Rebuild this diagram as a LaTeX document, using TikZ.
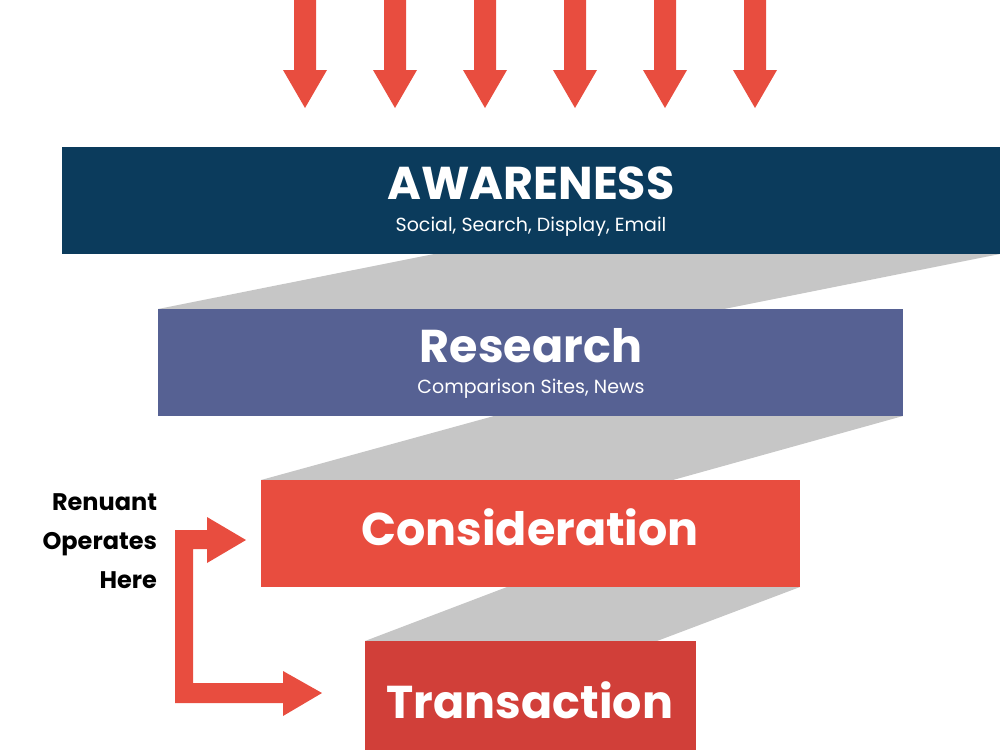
\documentclass[tikz,border=0pt]{standalone}
\usepackage{fontspec}
\setmainfont{Poppins}
\begin{document}
\begin{tikzpicture}[x=1pt,y=-1pt,
  box/.style={inner sep=0pt,outer sep=0pt},
  title/.style={font=\fontsize{46}{46}\selectfont\bfseries,text=white},
  sub/.style={font=\fontsize{19}{19}\selectfont,text=white},
  rib/.style={fill=ribgrey}]
\definecolor{navy}{HTML}{0B3B5C}
\definecolor{slate}{HTML}{566193}
\definecolor{red1}{HTML}{E84D3F}
\definecolor{red2}{HTML}{D13F39}
\definecolor{ribgrey}{HTML}{C6C6C6}
\useasboundingbox (0,0) rectangle (1000,750);
% ribbons
\fill[rib] (434,254) -- (1000,254) -- (724,309) -- (158,309) -- cycle;
\fill[rib] (494,416) -- (903,416) -- (673,480) -- (261,480) -- cycle;
\fill[rib] (507,587) -- (800,587) -- (657,641) -- (365,641) -- cycle;
% boxes
\fill[navy] (62,147) rectangle (1000,254);
\fill[slate] (158,309) rectangle (903,416);
\fill[red1] (261,480) rectangle (800,587);
\fill[red2] (365,641) rectangle (696,750);
\node[box,title,anchor=base] (aw) at (531,199) {AWARENESS};
\node[box,sub,anchor=base] (aws) at (531,231) {Social, Search, Display, Email};
\node[box,title,anchor=base] (re) at (531,362) {Research};
\node[box,sub,anchor=base] (res) at (531,393) {Comparison Sites, News};
\node[box,title,anchor=base] (co) at (530,545) {Consideration};
\node[box,title,anchor=base] (tr) at (530,718) {Transaction};
% top arrows
\foreach \c [count=\i] in {305,395,485,575,665,755}{
  \fill[red1] (\c-11,0) -- (\c+11,0) -- (\c+11,70) -- (\c+22,70) -- (\c,108) -- (\c-22,70) -- (\c-11,70) -- cycle;
}
% bracket arrow
\fill[red1] (175,530) -- (207,530) -- (207,517) -- (246,540) -- (207,563) -- (207,549) -- (193,549)
  -- (193,683) -- (283,683) -- (283,671) -- (322,693) -- (283,716) -- (283,703) -- (175,703) -- cycle;
\node[box,anchor=base east,align=right,font=\fontsize{24}{39}\selectfont\bfseries] (lbl) at (157,588)
  {Renuant\\Operates\\Here};
\end{tikzpicture}
\end{document}
